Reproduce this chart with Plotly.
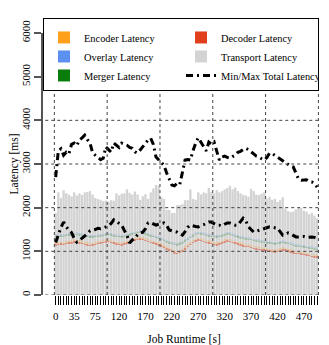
import plotly.graph_objects as go

# ---- data ----
times = [5 * i for i in range(100)]  # job runtime [s], one bar per 5 s
x_tick_labels = [0, 35, 75, 120, 170, 220, 270, 320, 370, 420, 470]
y_ticks = [0, 1000, 2000, 3000, 4000, 5000, 6000]
grid_x = [0, 100, 200, 300, 400, 500]
grid_y = [0, 1000, 2000, 3000, 4000, 5000, 6000]

transport = [
    1880, 2350, 2220, 2400, 2330, 2300, 2260, 2350, 2280, 2330,
    2290, 2350, 2360, 2380, 2300, 2220, 2200, 2180, 2150, 2160,
    2140, 2170, 2160, 2330, 2280, 2320, 2330, 2420, 2340, 2300,
    2370, 2300, 2180, 2260, 2310, 2200, 2350, 2440, 2520, 2500,
    2240, 2200, 1950, 1950, 1880, 1880, 2060, 2060, 2080, 2170,
    2170, 2420, 2200, 2180, 2350, 2300, 2350, 2330, 2450, 2360,
    2330, 2400, 2350, 2380, 2420, 2450, 2500, 2420, 2460, 2380,
    2330, 2290, 2280, 2250, 2430, 2380, 2300, 2290, 2320, 2350,
    2200, 2250, 2180, 2200, 2130, 2170, 2240, 1980, 1920, 1900,
    1910, 1960, 2000, 1990, 1930, 1910, 1850, 1880, 1820, 1760,
]

decoder_level = [
    1140, 1150, 1160, 1150, 1170, 1180, 1190, 1210, 1200, 1190,
    1170, 1150, 1140, 1130, 1140, 1150, 1170, 1180, 1200, 1210,
    1220, 1200, 1180, 1160, 1150, 1140, 1160, 1180, 1200, 1230,
    1250, 1270, 1280, 1260, 1240, 1220, 1200, 1180, 1160, 1140,
    1120, 1080, 1050, 1020, 990, 960, 950, 970, 1000, 1050,
    1100, 1150, 1200, 1230, 1250, 1240, 1220, 1200, 1190, 1170,
    1150, 1140, 1160, 1180, 1210, 1230, 1220, 1200, 1180, 1160,
    1140, 1120, 1110, 1100, 1080, 1060, 1050, 1040, 1030, 1020,
    1010, 1000, 990, 980, 990, 1010, 1030, 1020, 1000, 980,
    960, 950, 940, 930, 920, 910, 900, 880, 870, 860,
]

encoder_level = [
    1180, 1185, 1200, 1190, 1210, 1215, 1230, 1250, 1240, 1230,
    1210, 1190, 1180, 1170, 1175, 1190, 1210, 1215, 1240, 1250,
    1255, 1240, 1220, 1200, 1190, 1180, 1195, 1220, 1240, 1265,
    1290, 1305, 1315, 1300, 1280, 1260, 1240, 1220, 1195, 1180,
    1160, 1120, 1090, 1060, 1030, 1000, 990, 1010, 1040, 1090,
    1140, 1190, 1240, 1265, 1290, 1280, 1260, 1240, 1230, 1210,
    1190, 1180, 1200, 1220, 1250, 1270, 1260, 1240, 1220, 1200,
    1180, 1160, 1150, 1140, 1120, 1100, 1090, 1080, 1070, 1060,
    1050, 1040, 1030, 1020, 1030, 1050, 1070, 1060, 1040, 1020,
    1000, 990, 980, 970, 960, 950, 940, 920, 910, 900,
]

merger_level = [
    1330, 1340, 1350, 1340, 1360, 1370, 1370, 1380, 1380, 1370,
    1360, 1340, 1330, 1320, 1320, 1330, 1340, 1350, 1360, 1370,
    1380, 1370, 1350, 1340, 1330, 1320, 1330, 1350, 1370, 1390,
    1400, 1420, 1430, 1410, 1390, 1370, 1350, 1330, 1310, 1290,
    1270, 1240, 1210, 1190, 1170, 1150, 1140, 1160, 1190, 1230,
    1270, 1310, 1350, 1380, 1400, 1390, 1380, 1360, 1350, 1340,
    1330, 1320, 1330, 1350, 1370, 1390, 1380, 1360, 1340, 1320,
    1300, 1290, 1280, 1270, 1260, 1240, 1230, 1220, 1210, 1200,
    1190, 1180, 1170, 1160, 1170, 1180, 1200, 1190, 1170, 1150,
    1130, 1120, 1110, 1100, 1090, 1080, 1070, 1060, 1050, 1040,
]

overlay_level = [
    1360, 1365, 1380, 1370, 1385, 1395, 1400, 1405, 1410, 1395,
    1390, 1370, 1360, 1350, 1345, 1360, 1370, 1380, 1385, 1400,
    1405, 1400, 1380, 1370, 1360, 1350, 1355, 1380, 1395, 1420,
    1430, 1445, 1460, 1440, 1420, 1400, 1380, 1360, 1340, 1320,
    1300, 1270, 1240, 1220, 1200, 1180, 1170, 1190, 1220, 1260,
    1300, 1340, 1380, 1410, 1430, 1420, 1410, 1390, 1380, 1370,
    1360, 1350, 1360, 1380, 1400, 1420, 1410, 1390, 1370, 1350,
    1330, 1320, 1310, 1300, 1290, 1270, 1260, 1250, 1240, 1230,
    1220, 1210, 1200, 1190, 1200, 1210, 1230, 1220, 1200, 1180,
    1160, 1150, 1140, 1130, 1120, 1110, 1100, 1090, 1080, 1070,
]

max_total = [
    2700, 3300, 3350, 3200, 3270, 3230, 3450, 3480, 3420, 3550,
    3600, 3660, 3560, 3480, 3250, 3200, 3160, 3100, 3130, 3390,
    3330, 3270, 3480, 3420, 3380, 3480, 3460, 3430, 3380, 3360,
    3280, 3250, 3320, 3400, 3480, 3550, 3590, 3450, 3160, 3100,
    3050, 2970, 2800, 2650, 2520, 2500, 2560, 2530, 2800, 3090,
    3100, 3090, 3300, 3480, 3600, 3500, 3420, 3300, 3500, 3450,
    3500, 3300, 3090, 3160, 3180, 3150, 3130, 3170, 3200, 3270,
    3290, 3330, 3360, 3330, 3270, 3230, 3180, 3160, 3120, 3090,
    3150, 3250, 3240, 3200, 3160, 3120, 3060, 3020, 2980, 2950,
    2930, 2800, 2650, 2630, 2630, 2640, 2600, 2590, 2550, 2470,
]

min_total = [
    1200, 1400, 1550, 1670, 1560, 1490, 1430, 1300, 1210, 1250,
    1300, 1340, 1400, 1470, 1480, 1500, 1530, 1520, 1540, 1560,
    1580, 1640, 1720, 1680, 1640, 1600, 1480, 1370, 1190, 1260,
    1300, 1380, 1420, 1440, 1520, 1650, 1660, 1630, 1600, 1620,
    1640, 1650, 1600, 1490, 1470, 1450, 1440, 1400, 1370, 1450,
    1550, 1600, 1580, 1570, 1560, 1580, 1610, 1640, 1670, 1670,
    1640, 1600, 1600, 1580, 1620, 1650, 1650, 1630, 1600, 1600,
    1680, 1760, 1700, 1560, 1500, 1440, 1460, 1480, 1490, 1510,
    1540, 1560, 1550, 1540, 1530, 1450, 1370, 1390, 1420, 1400,
    1360, 1330, 1330, 1330, 1340, 1320, 1330, 1330, 1320, 1300,
]

# ---- style ----
FONT = "Liberation Serif"
GRAY = "#d3d3d3"
SLIVER = 11          # drawn thickness of component level marks (ms)
HALF_BAR = 2.5       # grid lines sit on bar edges

fig = go.Figure()

fig.add_trace(go.Bar(
    x=times, y=transport, name="Transport Latency",
    marker=dict(color=GRAY, line=dict(width=0)),
    legendrank=4,
))

components = [
    ("Encoder Latency", encoder_level, "#ff9f1a", 1, 0.25),
    ("Decoder Latency", decoder_level, "#e0401c", 2, 0.5),
    ("Overlay Latency", overlay_level, "#5b8ff0", 3, 0.2),
    ("Merger Latency", merger_level, "#0a7d0a", 5, 0.25),
]
for name, level, color, rank, op in components:
    fig.add_trace(go.Bar(
        x=times, y=[SLIVER] * len(level), base=level, name=name,
        marker=dict(color=color, line=dict(width=0), opacity=op),
        legendrank=rank,
    ))

# min and max drawn as one dash-dot trace (gap between the two runs)
fig.add_trace(go.Scatter(
    x=times + [None] + times, y=min_total + [None] + max_total,
    mode="lines", connectgaps=False,
    line=dict(color="black", width=3, dash="7px,4px,2px,4px"),
    name="Min/Max Total Latency", legendrank=6,
))

shapes = []
for g in grid_x:
    shapes.append(dict(type="line", xref="x", yref="y",
                       x0=g - HALF_BAR, x1=g - HALF_BAR, y0=0, y1=6000,
                       line=dict(color="#444", width=1, dash="dot"), layer="above"))
for g in grid_y:
    shapes.append(dict(type="line", xref="paper", yref="y",
                       x0=0.008, x1=1, y0=g, y1=g,
                       line=dict(color="#444", width=1, dash="dot"), layer="above"))

tick_text = [str(t) if t in x_tick_labels else "" for t in times]

# page body has an 8px default margin, so the figure is sized/offset for it
fig.update_layout(
    width=321, height=337,
    margin=dict(l=35, r=4, t=25, b=50, autoexpand=False),
    paper_bgcolor="white", plot_bgcolor="white",
    barmode="overlay", bargap=0.12,
    font=dict(family=FONT, size=11, color="black"),
    shapes=shapes,
    showlegend=True,
    legend=dict(
        orientation="h", x=0.0, y=1.057, xanchor="left", yanchor="top",
        entrywidth=92, bgcolor="white", bordercolor="black", borderwidth=1,
        font=dict(family=FONT, size=10.4), traceorder="normal",
        itemwidth=30,
        title=dict(text=" ", font=dict(size=3), side="top"),
    ),
    xaxis=dict(
        range=[-24, 510], tickmode="array", tickvals=times, ticktext=tick_text,
        ticks="outside", ticklen=9, tickwidth=1, tickcolor="black",
        ticklabelstandoff=2,
        showgrid=False, zeroline=False, showline=False, tickangle=0,
        tickfont=dict(size=11),
        title=dict(text="Job Runtime [s]", font=dict(size=11.5), standoff=14),
    ),
    yaxis=dict(
        range=[0, 6000], tickvals=y_ticks, ticktext=[str(v) for v in y_ticks],
        ticks="outside", ticklen=7, tickwidth=2, tickcolor="#555",
        showline=True, linewidth=2, linecolor="#555",
        showgrid=False, zeroline=False, tickangle=-90,
        tickfont=dict(size=11),
        title=dict(text="Latency [ms]", font=dict(size=11.5), standoff=6),
    ),
)

fig.write_html("out.html")
